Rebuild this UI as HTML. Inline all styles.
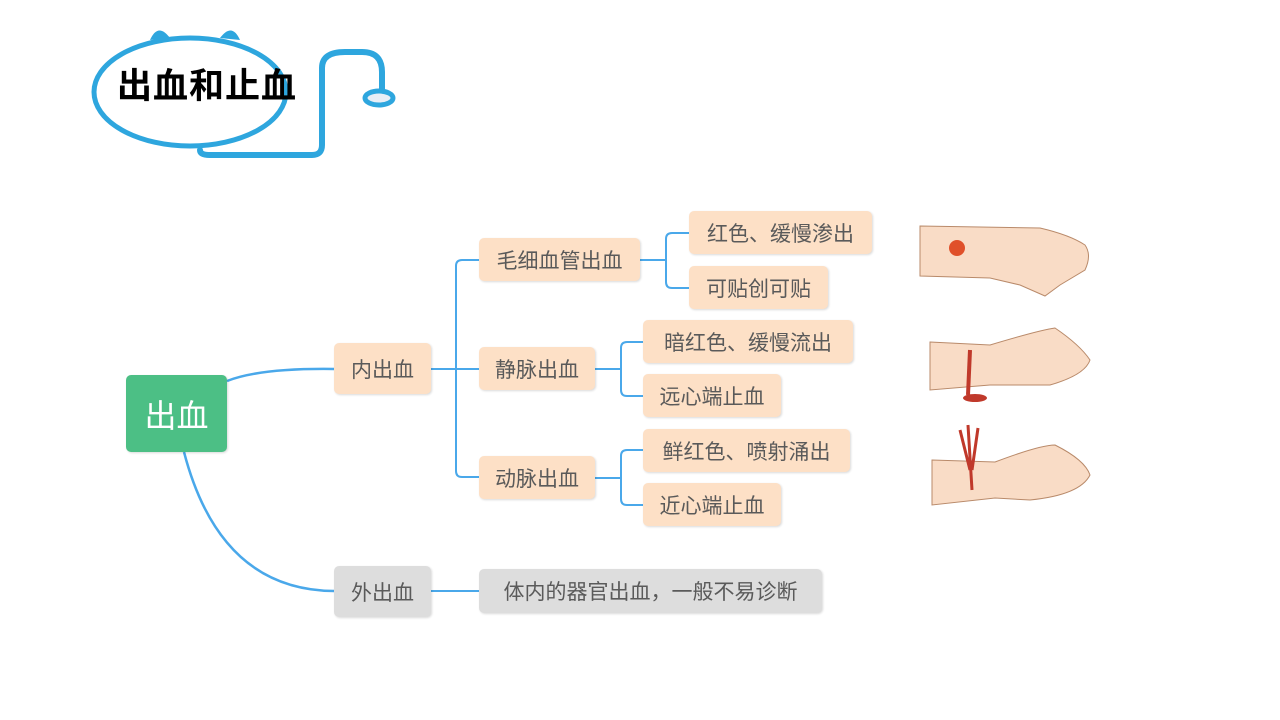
<!DOCTYPE html>
<html><head><meta charset="utf-8"><style>
body{margin:0;width:1280px;height:720px;background:#fff;position:relative;overflow:hidden;font-family:"Liberation Sans","Noto Sans CJK SC",sans-serif}
.b{position:absolute;background:#fde0c6;border-radius:5px;color:#5a5a5a;font-size:21px;display:flex;align-items:center;justify-content:center;box-shadow:1px 1px 2px rgba(0,0,0,.15)}
.g{background:#dddddd}
svg{position:absolute;left:0;top:0}
</style></head><body>
<svg width="1280" height="720">
<g fill="none" stroke="#2ea6de" stroke-width="6" stroke-linecap="round">
<ellipse cx="190" cy="92" rx="96" ry="54" stroke-width="5"/>
<path d="M200 150 Q200 155 210 155 L312 155 Q322 155 322 145 L322 68 Q322 52 345 52 L362 52 Q382 52 382 72 L382 90"/>
</g>
<ellipse cx="379" cy="98" rx="14" ry="7" fill="#e8eef6" stroke="#2ea6de" stroke-width="5"/>
<path d="M150 40 Q158 22 170 38 Z M220 38 Q232 22 240 40 Z" fill="#2ea6de"/>
<text x="117" y="98" font-size="35" font-weight="bold" letter-spacing="1" font-family="Liberation Sans,Noto Sans CJK SC,sans-serif" fill="#000">出血和止血</text>
<g fill="none" stroke="#4aa8ea" stroke-width="2">
<path d="M227 381 Q260 368 334 369" stroke-width="2.5"/>
<path d="M184 452 Q220 590 334 591" stroke-width="2.5"/>
<path d="M431 369 L479 369"/>
<path d="M479 260 L462 260 Q456 260 456 266 L456 471 Q456 477 462 477 L479 477"/>
<path d="M431 591 L479 591"/>
<path d="M640 260 L665 260"/>
<path d="M689 233 L672 233 Q666 233 666 239 L666 282 Q666 288 672 288 L689 288"/>
<path d="M595 369 L620 369"/>
<path d="M643 342 L627 342 Q621 342 621 348 L621 390 Q621 396 627 396 L643 396"/>
<path d="M595 478 L620 478"/>
<path d="M643 450 L627 450 Q621 450 621 456 L621 499 Q621 505 627 505 L643 505"/>
</g>
<g fill="#f9dcc6" stroke="#b98a6a" stroke-width="1">
<path d="M920 226 L1040 228 Q1070 235 1085 245 Q1092 255 1085 270 L1060 285 L1045 296 L1020 285 L990 278 L920 276 Z"/>
<path d="M930 342 L990 345 Q1040 330 1055 328 Q1080 345 1090 360 Q1085 375 1050 385 L990 385 L930 390 Z"/>
<path d="M932 460 L995 462 Q1040 445 1055 445 Q1085 460 1090 475 Q1080 495 1030 500 L995 498 L932 505 Z"/>
</g>
<circle cx="957" cy="248" r="8" fill="#e0502a"/>
<path d="M970 350 L968 395" stroke="#c0392b" stroke-width="4"/>
<ellipse cx="975" cy="398" rx="12" ry="4" fill="#c0392b"/>
<path d="M968 425 L972 490 M960 430 L970 470 M978 428 L972 470" stroke="#c0392b" stroke-width="3"/>
</svg>
<div class="b" style="left:126px;top:375px;width:101px;height:77px;background:#4cbf85;color:#fff;font-size:32px">出血</div>
<div class="b" style="left:334px;top:343px;width:97px;height:51px">内出血</div>
<div class="b g" style="left:334px;top:566px;width:97px;height:51px">外出血</div>
<div class="b" style="left:479px;top:238px;width:161px;height:43px">毛细血管出血</div>
<div class="b" style="left:479px;top:347px;width:116px;height:43px">静脉出血</div>
<div class="b" style="left:479px;top:456px;width:116px;height:43px">动脉出血</div>
<div class="b" style="left:689px;top:211px;width:183px;height:43px">红色、缓慢渗出</div>
<div class="b" style="left:689px;top:266px;width:139px;height:43px">可贴创可贴</div>
<div class="b" style="left:643px;top:320px;width:210px;height:43px">暗红色、缓慢流出</div>
<div class="b" style="left:643px;top:374px;width:138px;height:43px">远心端止血</div>
<div class="b" style="left:643px;top:429px;width:207px;height:43px">鲜红色、喷射涌出</div>
<div class="b" style="left:643px;top:483px;width:138px;height:43px">近心端止血</div>
<div class="b g" style="left:479px;top:569px;width:343px;height:44px">体内的器官出血，一般不易诊断</div>
</body></html>
